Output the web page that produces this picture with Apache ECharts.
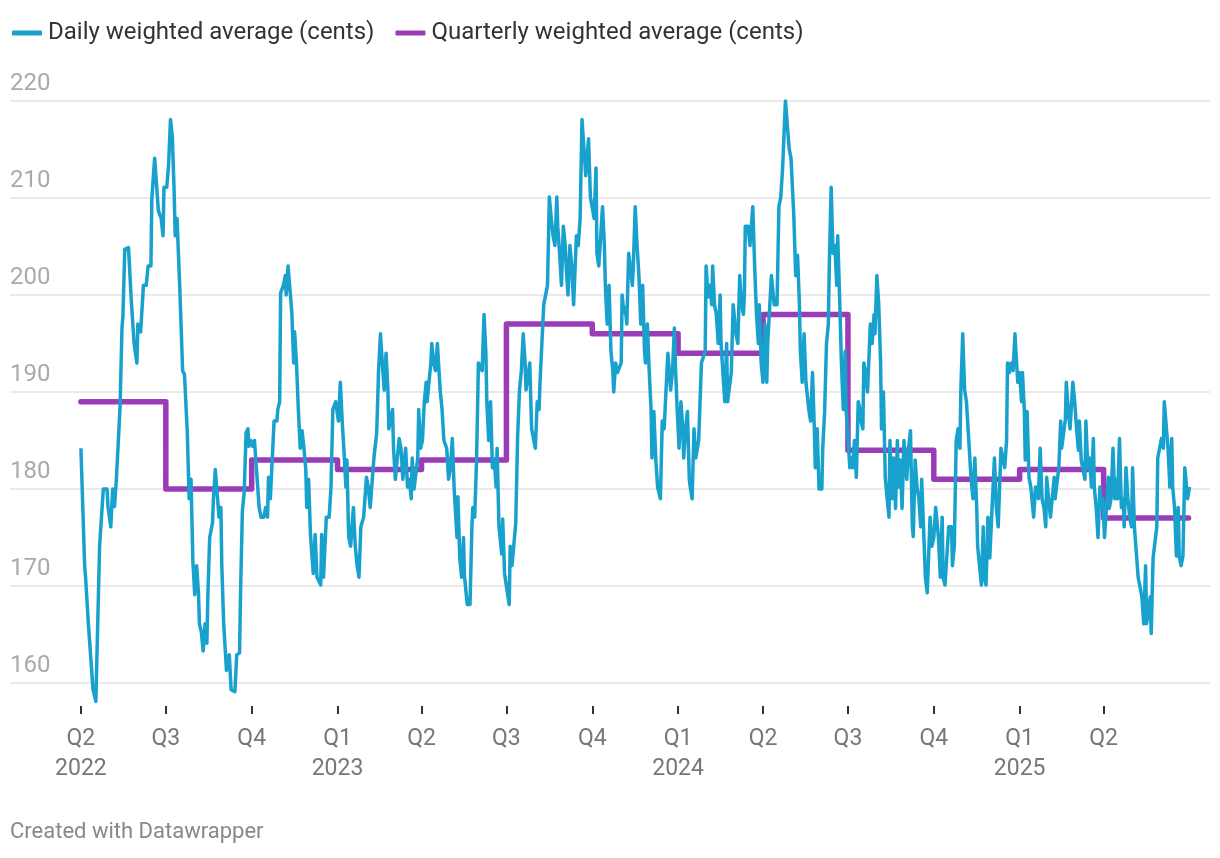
<!DOCTYPE html>
<html><head><meta charset="utf-8">
<script src="https://cdn.jsdelivr.net/npm/echarts@6/dist/echarts.min.js"></script>
<style>html,body{margin:0;padding:0;background:#fff;} #c{width:1220px;height:858px;}</style>
</head><body><div id="c"></div>
<script>
// Series names (legend)
const seriesNames = ['Daily weighted average (cents)', 'Quarterly weighted average (cents)'];

// Daily weighted average: [days since 1 April 2022, cents]
const dailyPoints = [
[0,184.2],[4,172.1],[5,170.9],[8,166.1],[13,159.3],[16,158.1],[18,158.1],[20,174.1],[24,180.0],[28,180.0],[29,178.2],[32,176.1],[34,180.0],[36,178.2],[38,181.0],[40,181.2],[42,188.6],[44,196.6],[45,197.8],[47,204.7],[51,204.9],[54,199.4],[57,195.0],[60,193.0],[61,197.0],[64,196.2],[67,201.0],[70,201.0],[72,203.0],[75,203.0],[76,209.9],[79,214.1],[80,213.9],[83,208.7],[86,207.9],[88,206.1],[89,211.1],[92,211.1],[94,213.5],[96,218.1],[98,216.3],[100,210.3],[101,206.1],[103,207.9],[106,200.6],[109,192.2],[111,191.8],[114,185.8],[116,179.0],[118,181.0],[120,172.5],[122,169.1],[124,172.1],[126,169.3],
[127,166.1],[129,165.3],[131,163.3],[133,166.1],[135,164.1],[136,168.9],[138,175.0],[141,176.5],[142,179.0],[144,182.0],[146,182.2],[148,177.1],[150,178.1],[151,172.1],[153,166.1],[156,161.3],[159,162.9],[161,159.3],[163,159.1],[165,159.1],[167,162.9],[170,163.1],[171,168.9],[173,177.7],[175,179.7],[177,185.8],[179,186.2],[180,184.4],[182,185.0],[184,184.4],[186,185.0],[188,182.2],[191,178.1],[193,177.1],[196,177.1],[198,178.1],[200,177.1],[201,181.2],[203,179.0],[205,179.0],[207,187.0],[210,187.0],[211,188.2],[213,189.0],[214,200.2],[217,201.0],[219,202.0],[220,200.0],[222,203.0],[224,200.6],[226,198.2],[228,193.0],[229,196.2],[231,193.0],[233,188.2],[235,184.2],[237,186.0],[239,184.2],[241,182.0],[242,178.1],[244,181.0],[246,175.3],[249,171.3],[251,175.3],[253,170.9],[255,170.9],[257,170.1],[258,175.3],[260,170.9],
[263,177.1],[266,177.1],[268,180.2],[270,188.2],[273,189.0],[275,189.0],[276,187.0],[278,191.0],[280,187.0],[282,183.8],[284,180.2],[285,183.0],[287,175.0],[289,174.1],[291,174.1],[292,178.1],[294,174.1],[296,172.1],[298,170.9],[300,176.1],[301,176.1],[303,177.1],[305,177.1],[306,181.2],[308,180.2],[310,178.1],[312,178.1],[314,183.2],[316,183.2],[317,185.8],[319,192.2],[321,196.0],[323,193.0],[325,190.2],[327,194.0],[329,190.2],[330,186.2],[332,186.2],[334,188.2],[335,184.2],[337,181.0],[339,181.0],[341,185.2],[343,184.2],[345,181.0],[346,181.0],[348,184.2],[350,180.2],[352,181.0],[354,179.0],[355,183.2],[357,180.0],[359,180.2],[361,183.2],[362,188.2],[364,184.2],[366,185.0],[368,189.0],[370,191.0],[371,189.0],[373,189.0],[375,193.0],[376,195.0],[378,193.0],[380,192.2],[382,195.0],[384,195.0],[385,190.2],[387,188.2],[389,185.0],[391,185.0],[392,184.2],[394,181.0],
[396,182.2],[398,185.2],[400,180.0],[403,175.0],[404,179.2],[406,172.9],[408,170.9],[410,175.0],[411,171.1],[414,168.1],[417,168.1],[419,176.1],[420,178.1],[422,177.1],[424,183.0],[426,193.0],[428,193.0],[430,192.2],[432,198.0],[434,194.0],[435,189.0],[437,185.0],[439,189.0],[441,182.2],[443,183.0],[445,180.2],[446,184.2],[448,176.1],[451,173.3],[452,176.9],[454,171.3],[457,169.3],[459,168.1],[460,174.1],[462,172.1],[464,172.1],[466,176.5],[468,185.4],[470,190.2],[472,192.2],[474,196.0],[476,193.0],[477,190.2],[479,190.2],[481,193.0],[483,186.2],[485,186.2],[487,184.2],[489,189.0],[491,188.2],[492,191.0],[494,191.0],[496,199.0],[498,199.0],[500,201.0],[501,205.5],[502,210.1],[504,207.9],[506,206.1],[508,205.1],[510,210.1],[511,207.1],[513,204.3],[515,201.0],[517,207.1],[519,205.1],[520,203.0],[522,200.0],[524,205.1],[526,203.0],[528,199.0],
[531,206.1],[533,205.1],[535,207.9],[537,218.1],[539,218.1],[541,212.3],[543,212.1],[544,216.1],[546,210.1],[548,210.1],[550,207.9],[552,213.1],[553,204.3],[555,203.0],[557,203.0],[559,209.1],[561,205.1],[562,201.0],[564,197.0],[566,201.0],[568,194.2],[570,192.2],[571,190.0],[573,193.0],[575,192.0],[577,192.0],[579,193.0],[580,200.0],[581,199.0],[584,198.0],[585,197.0],[587,204.3],[589,204.1],[591,201.0],[592,203.0],[594,209.1],[596,205.1],[598,202.0],[600,197.0],[602,201.0],[604,194.2],[605,193.0],[607,197.0],[609,192.2],[611,188.2],[612,183.2],[614,188.0],[616,183.2],[618,180.2],[620,180.2],[621,179.0],[623,187.0],[625,186.2],[627,186.0],[629,194.0],[630,194.0],[632,190.2],[634,192.2],[636,196.6],[637,193.0],[639,188.2],[641,184.2],[643,189.0],[645,186.2],[646,183.2],[648,186.2],[650,188.0],[652,181.0],[653,180.2],[655,179.0],[657,186.2],[659,183.2],[661,183.2],[662,185.0],
[665,193.0],[667,193.0],[669,194.2],[670,203.0],[672,199.8],[674,201.0],[676,199.0],[677,203.0],[679,199.0],[681,198.0],[683,195.0],[685,200.0],[686,195.0],[688,192.0],[690,189.0],[692,195.0],[693,189.0],[695,189.0],[697,192.0],[699,199.0],[701,199.0],[702,196.0],[704,195.0],[706,202.0],[708,199.0],[710,198.0],[711,200.0],[712,207.1],[715,207.1],[717,205.1],[719,205.1],[720,209.1],[722,203.0],[724,198.0],[726,195.0],[727,199.0],[729,193.0],[731,191.0],[733,197.0],[735,191.0],[736,195.0],[738,195.0],[740,202.0],[742,202.0],[743,199.0],[746,199.0],[748,209.1],[750,210.1],[752,213.1],[753,213.1],[755,220.0],[757,220.0],[759,215.1],[761,214.1],[762,214.1],[764,208.1],[766,202.0],[768,204.1],[770,199.0],[771,194.2],[773,191.0],[775,196.0],[777,191.0],[779,191.0],[780,188.2],[782,187.0],[784,192.0],[786,186.2],[787,182.2],[789,186.2],[791,180.0],[794,180.0],[795,184.2],
[797,188.0],[799,195.0],[801,197.0],[802,203.0],[804,211.1],[806,204.3],[808,205.1],[810,201.0],[811,206.1],[813,200.0],[815,193.0],[817,188.2],[819,194.2],[820,188.2],[822,185.4],[824,182.2],[826,183.2],[827,182.2],[829,185.0],[831,181.2],[833,189.0],[835,188.2],[836,187.0],[838,186.2],[839,193.0],[841,192.0],[843,190.0],[844,190.0],[846,197.0],[848,195.0],[850,198.0],[851,196.0],[853,202.0],[855,199.0],[857,193.0],[858,186.2],[860,190.0],[862,181.2],[864,179.0],[866,177.1],[867,185.0],[869,179.0],[871,183.2],[873,178.0],[875,185.0],[876,180.2],[878,183.0],[880,178.0],[882,185.0],[884,185.0],[885,181.0],[887,184.2],[889,186.0],[891,176.1],[892,175.1],[894,183.0],[896,180.2],[898,179.0],[900,176.1],[901,181.0],[903,176.1],[905,170.9],[907,169.3],[908,169.1],[910,177.1],[912,174.1],[914,175.0],[916,178.1],[917,177.1],[919,175.0],[921,170.9],[923,177.1],[924,170.9],[926,170.1],[928,170.1],[930,176.1],
[933,176.1],[934,172.1],[936,174.1],[938,185.0],[940,186.2],[942,184.2],[943,190.2],[945,196.0],[947,190.2],[949,189.0],[951,189.0],[952,184.2],[954,181.0],[956,179.0],[958,183.2],[960,178.1],[961,174.1],[963,172.1],[965,170.1],[967,176.1],[968,170.9],[970,170.1],[972,177.1],[974,172.9],[976,177.1],[977,177.1],[979,183.2],[981,178.1],[983,176.1],[984,176.1],[986,184.2],[988,183.2],[990,182.2],[992,185.0],[993,193.0],[995,192.0],[997,193.0],[999,192.2],[1001,196.0],[1002,194.2],[1004,191.0],[1006,192.0],[1008,189.0],[1009,192.0],[1011,188.2],[1012,183.0],[1014,188.0],[1016,181.2],[1018,180.2],[1020,178.1],[1021,177.1],[1023,180.2],[1025,180.2],[1026,179.0],[1028,184.2],[1030,179.0],[1032,178.1],[1034,176.1],[1035,181.2],[1037,179.0],[1039,177.1],[1041,177.1],[1043,181.2],[1044,179.0],[1046,179.0],[1048,182.2],[1050,187.0],[1051,184.2],[1053,184.2],[1055,187.2],[1056,191.0],[1058,188.2],[1060,186.2],[1061,186.0],[1063,191.0],[1065,189.0],[1067,186.2],[1069,184.0],[1070,187.0],
[1072,183.0],[1074,183.0],[1076,181.0],[1077,187.0],[1079,182.2],[1081,183.2],[1083,180.2],[1085,185.2],[1086,180.2],[1088,178.1],[1090,175.0],[1092,180.2],[1094,178.1],[1095,179.0],[1097,175.0],[1099,178.1],[1101,181.2],[1102,178.0],[1104,179.0],[1106,184.2],[1108,179.0],[1110,181.0],[1111,179.0],[1113,185.2],[1115,178.1],[1117,179.0],[1118,176.1],[1120,182.2],[1122,179.0],[1124,177.1],[1126,176.1],[1127,182.2],[1129,176.1],[1131,176.1],[1133,170.9],[1135,170.9],[1137,168.9],[1139,166.1],[1141,172.1],[1142,166.1],[1144,166.1],[1146,168.9],[1147,165.1],[1149,172.9],[1151,173.1],[1153,176.1],[1154,183.2],[1156,183.2],[1158,185.2],[1160,184.2],[1161,189.0],[1163,189.0],[1165,184.2],[1167,180.2],[1169,185.2],[1170,180.2],[1172,178.1],[1174,173.1],[1176,178.1],[1177,173.1],[1179,172.1],[1181,173.1],[1183,182.2],[1185,182.2],[1186,179.0],[1188,180.2]
];

// Quarterly weighted average
const quarterStarts = ['2022-04-01','2022-07-01','2022-10-01','2023-01-01','2023-04-01','2023-07-01','2023-10-01','2024-01-01','2024-04-01','2024-07-01','2024-10-01','2025-01-01','2025-04-01'];
const quarterValues = [189,180,183,182,183,197,196,194,198,184,181,182,177];
const lastQuarterEnd = '2025-07-01';

// Axis ticks
const xTickDates = ['2022-04-01','2022-07-01','2022-10-01','2023-01-01','2023-04-01','2023-07-01','2023-10-01','2024-01-01','2024-04-01','2024-07-01','2024-10-01','2025-01-01','2025-04-01'];
const yTicks = [160,170,180,190,200,210,220];

const DAY = 86400000;
function ts(s){ const p = s.split('-').map(Number); return Date.UTC(p[0], p[1]-1, p[2]); }
const t0 = ts('2022-04-01');
const daily = dailyPoints.map(p => [t0 + p[0]*DAY, p[1]]);
const quarterly = quarterStarts.map((s,i) => [ts(s), quarterValues[i]])
  .concat([[ts(lastQuarterEnd), quarterValues[quarterValues.length-1]]]);
const tickVals = xTickDates.map(ts);

const chart = echarts.init(document.getElementById('c'), null, {renderer:'canvas'});
chart.setOption({
  animation: false,
  backgroundColor: '#fff',
  textStyle: {fontFamily: 'Roboto'},
  legend: {
    left: 7, top: 16, icon: 'roundRect', itemWidth: 30, itemHeight: 5, itemGap: 21,
    data: seriesNames,
    textStyle: {fontSize: 24, color: '#333', fontFamily: 'Roboto', padding: [0,0,0,1]}
  },
  grid: {left: 10, right: 10, top: 101, bottom: 175},
  xAxis: {
    type: 'value', min: t0 - 76*DAY, max: t0 + 1210*DAY, offset: 23,
    axisLine: {show: false}, splitLine: {show: false},
    axisTick: {show: true, customValues: tickVals, length: 8, lineStyle: {color: '#333', width: 2}},
    axisLabel: {
      customValues: tickVals, fontSize: 23, color: '#777', lineHeight: 30, margin: 18, fontFamily: 'Roboto',
      formatter: function(v){ const d = new Date(v); const q = Math.floor(d.getUTCMonth()/3)+1;
        return (q === 1 || v === tickVals[0]) ? ('Q'+q+'\n'+d.getUTCFullYear()) : ('Q'+q); }
    }
  },
  yAxis: {
    type: 'value', min: yTicks[0], max: yTicks[yTicks.length-1], interval: 10,
    axisLine: {show: false}, axisTick: {show: false},
    splitLine: {lineStyle: {color: '#e3e3e3', width: 1.5}},
    axisLabel: {inside: true, verticalAlign: 'bottom', margin: 0, padding: [0,0,5,0], fontSize: 24, color: '#aaa', fontFamily: 'Roboto'}
  },
  series: [
    {name: seriesNames[1], type: 'line', step: 'end', data: quarterly, showSymbol: false, clip: false,
     lineStyle: {color: '#9b3cb7', width: 5.5, cap: 'round', join: 'round'}, itemStyle: {color: '#9b3cb7'}, z: 2},
    {name: seriesNames[0], type: 'line', data: daily, showSymbol: false, clip: false,
     lineStyle: {color: '#18a1cd', width: 3.5, join: 'round'}, itemStyle: {color: '#18a1cd'}, z: 3}
  ],
  graphic: [{type: 'text', left: 10, top: 821, style: {text: 'Created with Datawrapper', fontSize: 22, fill: '#888', fontFamily: 'Roboto'}}]
});
</script></body></html>
